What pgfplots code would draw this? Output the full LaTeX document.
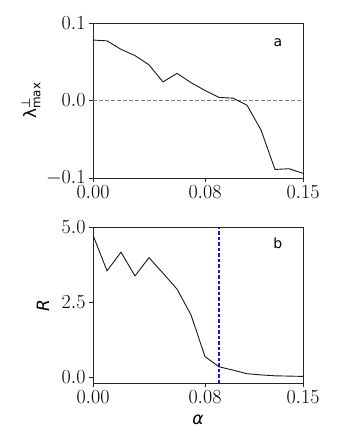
\RequirePackage{fix-cm}
\documentclass[border=0pt]{standalone}
\usepackage{amsmath}
\usepackage{fontspec}
\newfontfamily\dejavu{DejaVu Sans}
\usepackage{pgfplots}
\pgfplotsset{compat=1.18}

\definecolor{vline}{RGB}{20,20,230}

\pgfplotsset{
  panel/.style={
    scale only axis,
    width=210pt,
    xmin=0, xmax=0.15,
    xtick={0,0.08,0.15},
    xticklabel style={/pgf/number format/fixed,
      /pgf/number format/fixed zerofill,
      /pgf/number format/precision=2},
    yticklabel style={/pgf/number format/fixed,
      /pgf/number format/fixed zerofill,
      /pgf/number format/precision=1},
    tick align=outside,
    xtick pos=bottom, ytick pos=left,
    major tick length=4pt,
    tick label style={font=\fontsize{20}{22}\selectfont},
    label style={font=\dejavu\fontsize{17}{20}\selectfont},
    axis line style={line width=0.8pt, black!85},
    tick style={line width=0.8pt, black!85},
  },
  curve/.style={black!90, line width=0.9pt},
}

\begin{document}
\begin{tikzpicture}
\useasboundingbox (0pt,0pt) rectangle (338pt,-447pt);

% panel a
\begin{axis}[panel,
  at={(93pt,-178pt)}, anchor=south west,
  height=155pt,
  ymin=-0.1, ymax=0.1,
  ytick={-0.1,0,0.1},
  ylabel={λ$^{\text{⊥}}_{\text{max}}$},
  y label style={at={(axis description cs:-0.295,0.5)}, anchor=center},
]
\addplot[gray, line width=0.8pt, dash pattern=on 4pt off 2pt] coordinates {(0,0) (0.15,0)};
\addplot[curve] coordinates {
  (0.00,0.078) (0.01,0.077) (0.02,0.066) (0.03,0.058) (0.04,0.046)
  (0.05,0.024) (0.06,0.035) (0.07,0.023) (0.08,0.013) (0.09,0.004)
  (0.10,0.003) (0.11,-0.006) (0.12,-0.038) (0.13,-0.089) (0.14,-0.088)
  (0.15,-0.094)
};
\node[anchor=base, font=\dejavu\fontsize{14}{16}\selectfont] at (axis description cs:0.88,0.847) {a};
\end{axis}

% panel b
\begin{axis}[panel,
  at={(93pt,-383.3pt)}, anchor=south west,
  height=156pt,
  ymin=-0.2, ymax=5,
  ytick={0,2.5,5},
  ylabel={\textit{R}},
  xlabel={\itshape α},
  y label style={at={(axis description cs:-0.238,0.5)}, anchor=center},
  x label style={at={(axis description cs:0.5,-0.237)}, anchor=center},
]
\addplot[draw=vline, line width=1.2pt, dash pattern=on 3.5pt off 2pt] coordinates {(0.09,-0.2) (0.09,5)};
\addplot[curve] coordinates {
  (0.00,4.74) (0.01,3.55) (0.02,4.17) (0.03,3.38) (0.04,3.99)
  (0.05,3.47) (0.06,2.94) (0.07,2.08) (0.08,0.69) (0.09,0.35)
  (0.10,0.24) (0.11,0.12) (0.12,0.08) (0.13,0.05) (0.14,0.04)
  (0.15,0.03)
};
\node[anchor=base, font=\dejavu\fontsize{14}{16}\selectfont] at (axis description cs:0.88,0.864) {b};
\end{axis}
\end{tikzpicture}
\end{document}
